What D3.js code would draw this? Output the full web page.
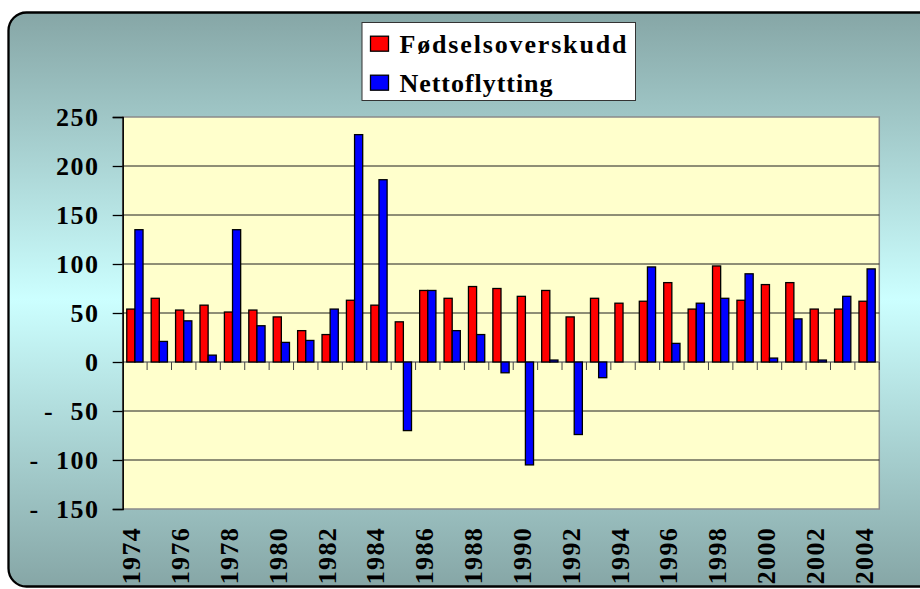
<!DOCTYPE html>
<html><head><meta charset="utf-8">
<script src="https://cdn.jsdelivr.net/npm/d3@7"></script>
<style>
html,body{margin:0;padding:0;background:#fff;}
svg{display:block;}
text{font-family:"Liberation Serif","Times New Roman",serif;font-weight:bold;fill:#000;}
</style></head>
<body>
<svg id="chart" width="920" height="589"></svg>
<script>
const years = [1974,1975,1976,1977,1978,1979,1980,1981,1982,1983,1984,1985,1986,1987,1988,1989,1990,1991,1992,1993,1994,1995,1996,1997,1998,1999,2000,2001,2002,2003,2004];
const fodselsoverskudd = [54,65,53,58,51,53,46,32,28,63,58,41,73,65,77,75,67,73,46,65,60,62,81,54,98,63,79,81,54,54,62];
const nettoflytting = [135,21,42,7,135,37,20,22,54,232,186,-70,73,32,28,-11,-105,2,-74,-16,0,97,19,60,65,90,4,44,2,67,95];
const seriesNames = ["Fødselsoverskudd","Nettoflytting"];
const seriesColors = ["#ff0000","#0000ff"];
const yTicks = [-150,-100,-50,0,50,100,150,200,250];
const xLabelYears = [1974,1976,1978,1980,1982,1984,1986,1988,1990,1992,1994,1996,1998,2000,2002,2004];

const svg = d3.select("#chart");
const defs = svg.append("defs");
const grad = defs.append("linearGradient").attr("id","bg").attr("x1",0).attr("y1",0).attr("x2",0).attr("y2",1);
grad.append("stop").attr("offset","0%").attr("stop-color","#86a6a6");
grad.append("stop").attr("offset","50%").attr("stop-color","#ccffff");
grad.append("stop").attr("offset","100%").attr("stop-color","#86a6a6");

// panel
svg.append("rect").attr("x",8.5).attr("y",12.5).attr("width",960).attr("height",574)
  .attr("rx",18).attr("ry",18).attr("fill","url(#bg)").attr("stroke","#000").attr("stroke-width",2.3);

const L=122.7, R=879.3, T=117, B=509;
const x = d3.scaleBand().domain(years).range([L,R]).padding(0);
const bw = x.bandwidth();
const x1 = d3.scaleBand().domain([0,1]).range([bw/6, bw*5/6]).padding(0);
const y = d3.scaleLinear().domain([-150,250]).range([B,T]);

// plot area
svg.append("rect").attr("x",L).attr("y",T).attr("width",R-L).attr("height",B-T)
  .attr("fill","#ffffcc").attr("stroke","#8a8a8a").attr("stroke-width",1.5);

// gridlines
svg.append("g").selectAll("line").data(yTicks.filter(d=>d!==0 && d!==250 && d!==-150)).join("line")
  .attr("x1",L).attr("x2",R).attr("y1",d=>y(d)).attr("y2",d=>y(d))
  .attr("stroke","#1e1e1e").attr("stroke-width",1);

// zero axis line
svg.append("line").attr("x1",L).attr("x2",R).attr("y1",y(0)).attr("y2",y(0))
  .attr("stroke","#7a7a7a").attr("stroke-width",1.3);
// category boundary ticks
svg.append("g").selectAll("line").data(years.slice(1).concat(["end"])).join("line")
  .attr("x1",d=>d==="end"?R:x(d)).attr("x2",d=>d==="end"?R:x(d))
  .attr("y1",y(0)).attr("y2",y(0)+8)
  .attr("stroke","#444").attr("stroke-width",1);

// bars
const data = [fodselsoverskudd, nettoflytting];
data.forEach((vals,si)=>{
  svg.append("g").selectAll("rect").data(vals.map((v,i)=>({year:years[i],v}))).join("rect")
    .attr("x",d=>x(d.year)+x1(si))
    .attr("width",x1.bandwidth())
    .attr("y",d=>y(Math.max(0,d.v)))
    .attr("height",d=>Math.abs(y(d.v)-y(0)))
    .attr("fill",seriesColors[si])
    .attr("stroke","#000").attr("stroke-width",1.3)
    .attr("display",d=>d.v===0?"none":null);
});

// y axis
const yAxis = d3.axisLeft(y).tickValues(yTicks).tickSize(10).tickPadding(0)
  .tickFormat(d=> d<0 ? "-\u00a0\u00a0"+Math.abs(d) : String(d));
const yg = svg.append("g").attr("transform",`translate(${L},0)`).call(yAxis);
yg.select(".domain").attr("stroke","#000").attr("stroke-width",1.5);
yg.selectAll(".tick line").attr("stroke","#000").attr("stroke-width",1.3);
yg.selectAll(".tick text").attr("x",-23).attr("dy","0.33em")
  .attr("font-size",26).attr("letter-spacing","1.6px")
  .style("font-family",'"Liberation Serif",serif').style("font-weight","bold").attr("fill","#000");

// x labels
svg.append("g").selectAll("text").data(xLabelYears).join("text")
  .attr("transform",d=>`translate(${x(d)+bw/2+5.5},527) rotate(-90)`)
  .attr("text-anchor","end").attr("font-size",26).attr("letter-spacing","1.3px")
  .text(d=>d);

// legend
const lg = svg.append("g");
lg.append("rect").attr("x",362).attr("y",22.5).attr("width",273.5).attr("height",78)
  .attr("fill","#fff").attr("stroke","#333").attr("stroke-width",1);
const legY = [52.7, 91.7];
const legW = [227, 153];
seriesNames.forEach((n,i)=>{
  lg.append("rect").attr("x",370.5).attr("y",legY[i]-16.5).attr("width",18).attr("height",15)
    .attr("fill",seriesColors[i]).attr("stroke","#000").attr("stroke-width",1.3);
  lg.append("text").attr("x",399.5).attr("y",legY[i]).attr("font-size",26)
    .attr("textLength",legW[i]).attr("lengthAdjust","spacing").text(n);
});
</script>
</body></html>
